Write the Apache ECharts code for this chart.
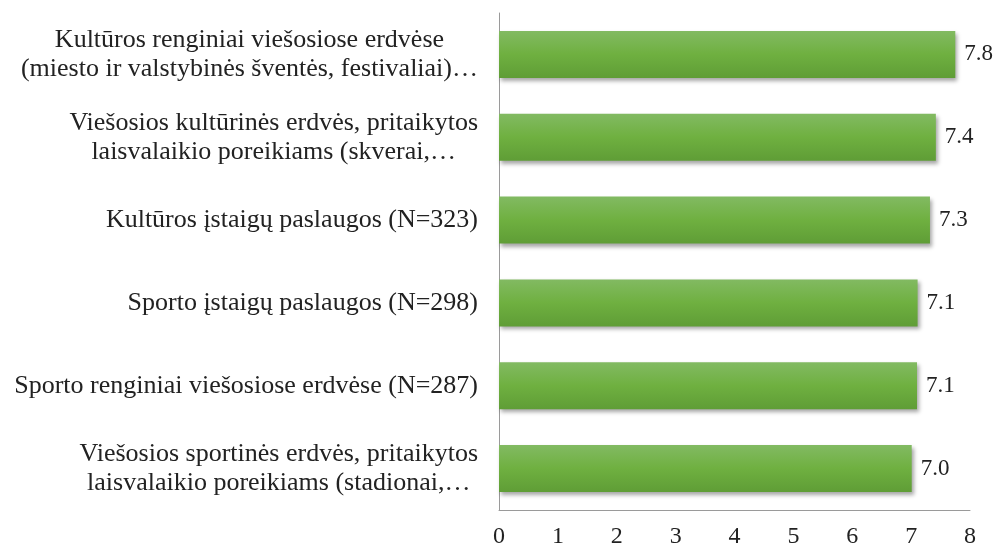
<!DOCTYPE html>
<html>
<head>
<meta charset="utf-8">
<title>Vertinimai</title>
<script src="https://cdn.jsdelivr.net/npm/echarts@6/dist/echarts.min.js"></script>
<style>
  html, body { margin: 0; padding: 0; background: #fff; }
  #main { width: 1000px; height: 550px; }
</style>
</head>
<body>
<div id="main"></div>
<script>
// kategorijos (nuo viršaus į apačią), eilutės atskirtos \n
var categories = [
  'Kultūros renginiai viešosiose erdvėse\n(miesto ir valstybinės šventės, festivaliai)…',
  'Viešosios kultūrinės erdvės, pritaikytos\nlaisvalaikio poreikiams (skverai,…',
  'Kultūros įstaigų paslaugos (N=323)',
  'Sporto įstaigų paslaugos (N=298)',
  'Sporto renginiai viešosiose erdvėse (N=287)',
  'Viešosios sportinės erdvės, pritaikytos\nlaisvalaikio poreikiams (stadionai,…'
];
var values = [7.75, 7.42, 7.32, 7.11, 7.1, 7.01];
var xTicks = [0, 1, 2, 3, 4, 5, 6, 7, 8];

var serif = '"Liberation Serif", "DejaVu Serif", serif';
var chart = echarts.init(document.getElementById('main'));

chart.setOption({
  animation: false,
  backgroundColor: '#fff',
  grid: { left: 499, right: 30, top: 13, bottom: 40 },
  xAxis: {
    type: 'value',
    min: xTicks[0],
    max: xTicks[xTicks.length - 1],
    interval: 1,
    splitLine: { show: false },
    axisTick: { show: false },
    axisLine: { show: true, lineStyle: { color: '#9a9a9a', width: 1 } },
    axisLabel: { fontFamily: serif, fontSize: 24, color: '#222', margin: 15 }
  },
  yAxis: {
    type: 'category',
    inverse: true,
    data: categories,
    axisTick: { show: false },
    axisLine: { show: true, lineStyle: { color: '#9a9a9a', width: 1 } },
    axisLabel: {
      margin: 21,
      fontFamily: serif,
      fontSize: 26,
      color: '#222',
      lineHeight: 29,
      formatter: function (v) {
        return v.split('\n').map(function (l) { return '{c|' + l + '}'; }).join('\n');
      },
      rich: {
        c: { align: 'center', fontFamily: serif, fontSize: 26, color: '#222', lineHeight: 29 }
      }
    }
  },
  series: [{
    type: 'bar',
    data: values,
    barWidth: 47,
    itemStyle: {
      color: new echarts.graphic.LinearGradient(0, 0, 0, 1, [
        { offset: 0, color: '#82ba62' },
        { offset: 0.5, color: '#6fb040' },
        { offset: 1, color: '#5f9d36' }
      ]),
      shadowColor: 'rgba(0,0,0,0.35)',
      shadowBlur: 4,
      shadowOffsetX: 2,
      shadowOffsetY: 3
    },
    label: {
      show: true,
      position: 'right',
      distance: 9,
      fontFamily: serif,
      fontSize: 23,
      color: '#222',
      formatter: function (p) { return p.value.toFixed(1); }
    }
  }]
});
</script>
</body>
</html>
